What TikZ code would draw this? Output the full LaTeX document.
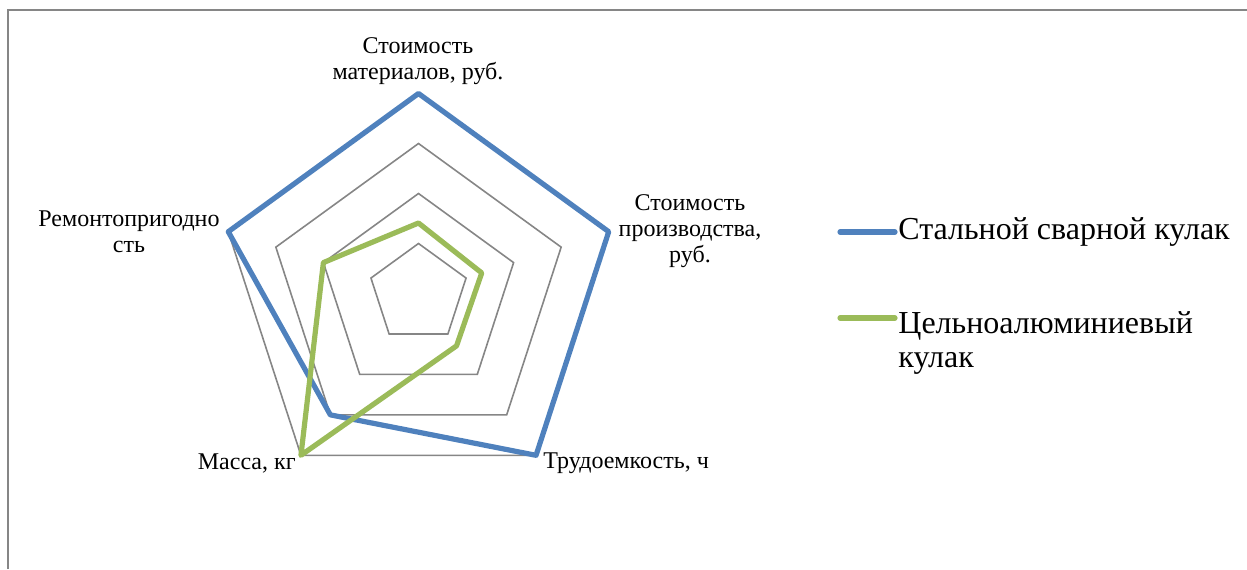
\documentclass[tikz,border=0pt]{standalone}
\usepackage{fontspec}
\setmainfont{Liberation Serif}
\definecolor{gridgray}{HTML}{868686}
\definecolor{steelblue}{HTML}{4F81BD}
\definecolor{alugreen}{HTML}{9BBB59}
\begin{document}
\begin{tikzpicture}[x=0.5pt,y=0.5pt,
		ring/.style={draw=gridgray, line width=0.8pt},
		series/.style={line width=2.6pt, line join=round},
		lbl/.style={font=\fontsize{12}{13}\selectfont, align=center, inner sep=0pt},
		leg/.style={font=\fontsize{16}{17}\selectfont, align=left, anchor=west, inner sep=1.5pt}]
	\useasboundingbox (0,0) rectangle (1247,569);
	\def\rs{50}
	\coordinate (c) at (418.5,275.5);
	% frame
	\draw[gridgray, line width=1pt] (8,0) -- (8,559) -- (1247,559);
	% rings
	\foreach \k in {1,2,3,4} {
		\draw[ring, shift={(c)}] (90:\k*\rs) -- (18:\k*\rs) -- (-54:\k*\rs) -- (-126:\k*\rs) -- (162:\k*\rs) -- cycle;
	}
	% series
	\draw[series, steelblue, shift={(c)}] (90:200) -- (18:200) -- (-54:200) -- (-126:150) -- (162:200) -- cycle;
	\draw[series, alugreen, shift={(c)}] (90:70.5) -- (18:66.5) -- (-54:64.7) -- (-126:200) -- (162:100) -- cycle;
	% axis labels
	\node[lbl] (mat) at (418,508) {Стоимость\\материалов, руб.};
	\node[lbl] (proizv) at (690,338) {Стоимость\\производства,\\руб.};
	\node[lbl, anchor=west] (trud) at (543,106) {Трудоемкость, ч};
	\node[lbl, anchor=east] (massa) at (296,106) {Масса, кг};
	\node[lbl] (remont) at (129,337) {Ремонтопригодно\\сть};
	% legend
	\node[leg] (leg1) at (895,337) {Стальной сварной кулак};
	\node[leg] (leg2) at (895,226) {Цельноалюминиевый\\кулак};
	\coordinate (l1) at (840,337);
	\coordinate (l2) at (840,251);
	\draw[series, steelblue, line cap=round] (l1) -- (leg1.west);
	\draw[series, alugreen, line cap=round] (l2) -- (l2 -| leg2.west);
\end{tikzpicture}
\end{document}
